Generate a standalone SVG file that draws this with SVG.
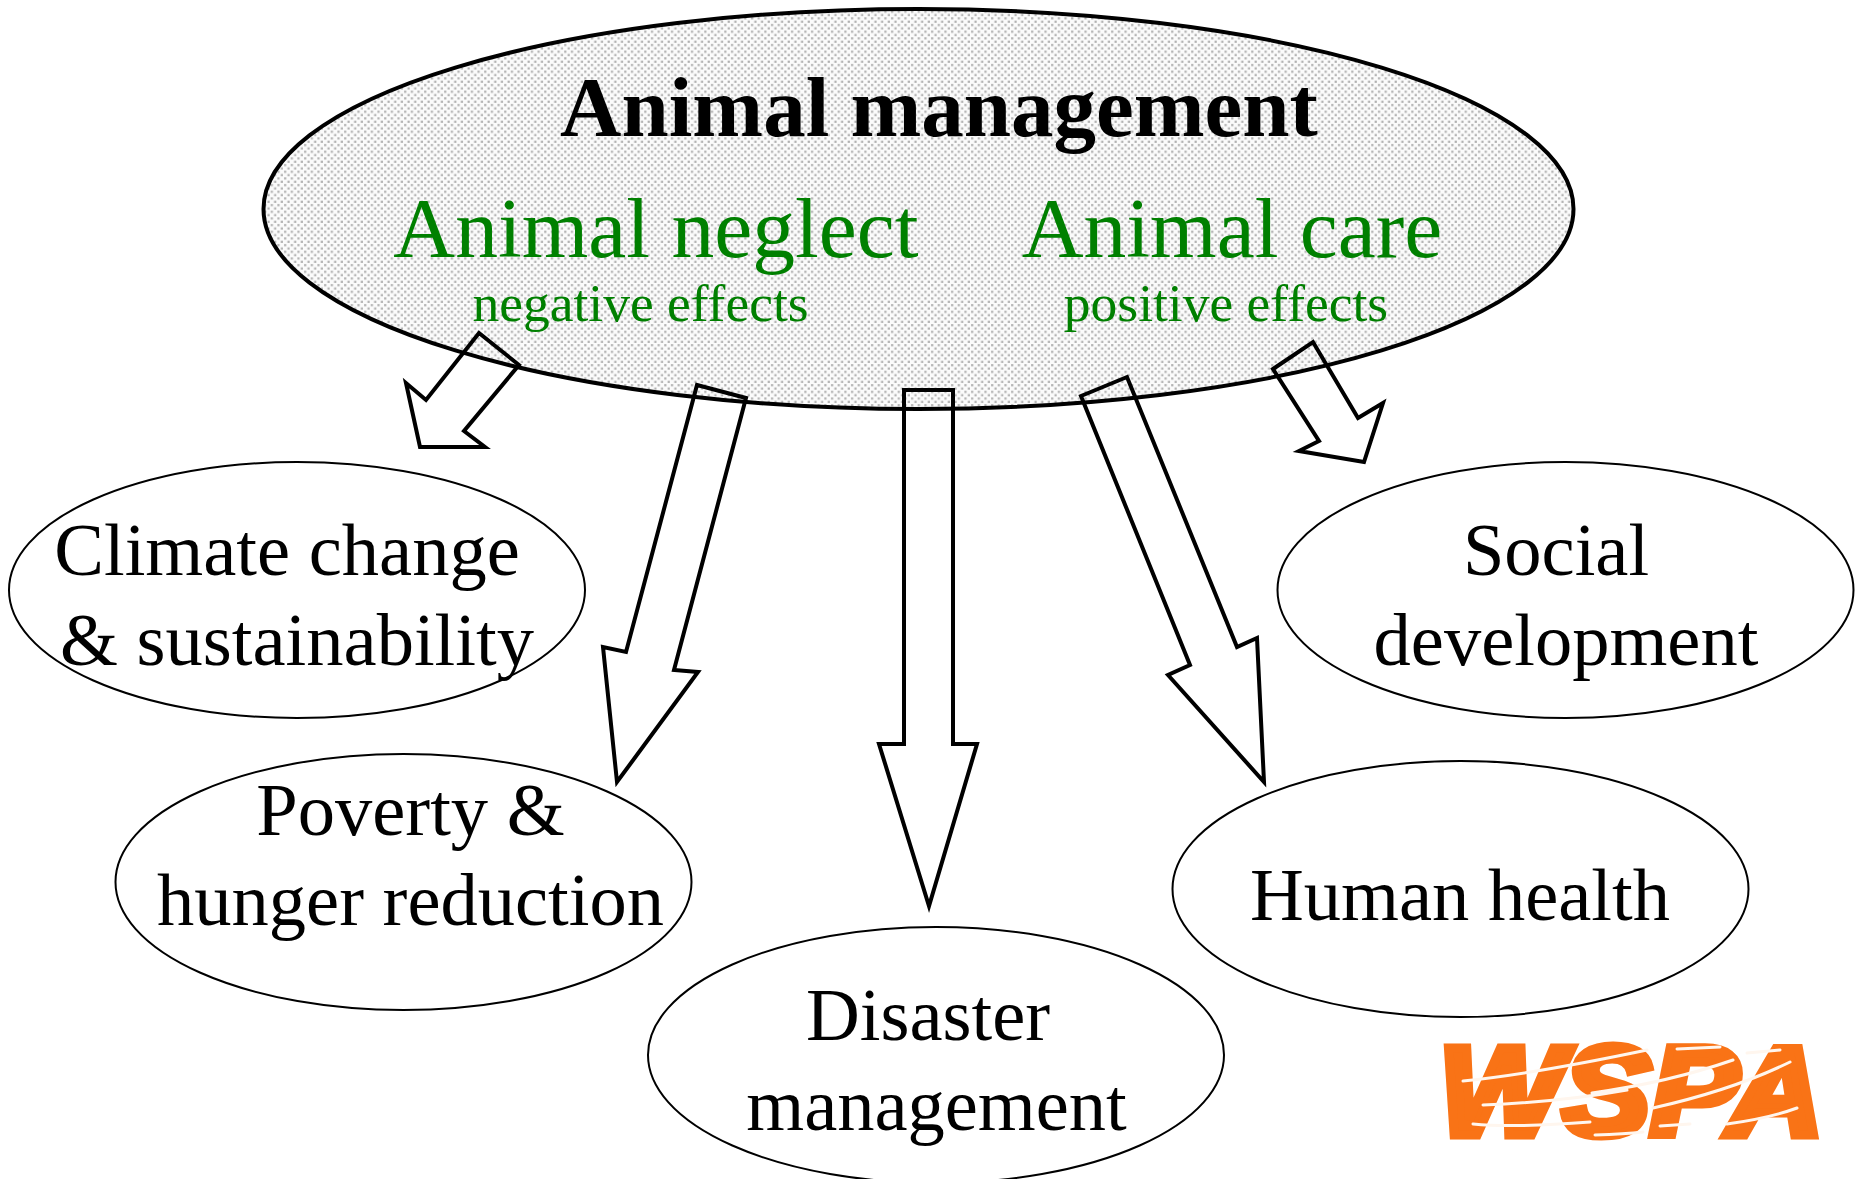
<svg xmlns="http://www.w3.org/2000/svg" width="1858" height="1179" viewBox="0 0 1858 1179">
<style>
text{font-family:"Liberation Serif","Times New Roman",serif;text-anchor:middle}
.t{font-size:74.5px;fill:#000}
.g{fill:#008000}
.n{fill:#fff;stroke:#000;stroke-width:2}
.o{fill:none;stroke:#000;stroke-width:4}
.s{fill:none;stroke:#fff6ee;stroke-linecap:round;stroke-width:3}
</style>
<defs>
<pattern id="dots" width="6.67" height="6.67" patternUnits="userSpaceOnUse">
<rect width="6.67" height="6.67" fill="#fbfbfb"/>
<rect x="0.6" y="0.6" width="2.2" height="2.2" fill="#b0b0b0"/>
<rect x="3.93" y="3.93" width="2.2" height="2.2" fill="#b0b0b0"/>
</pattern>
</defs>
<rect width="1858" height="1179" fill="#fff"/>
<g id="node-main">
<ellipse cx="918.5" cy="209" rx="655" ry="200" fill="url(#dots)" stroke="#000" stroke-width="4"/>
<text x="939" y="136" font-size="85" font-weight="bold">Animal management</text>
<text x="656" y="257" font-size="85.6" class="g">Animal neglect</text>
<text x="1232" y="257" font-size="85.6" class="g">Animal care</text>
<text x="640.5" y="321" font-size="53.5" class="g">negative effects</text>
<text x="1226" y="321" font-size="53.5" class="g">positive effects</text>
</g>
<g id="connectors">
<polygon class="o" points="479,333 519,365 464,431 485,447 420,447 406,383 426,400"/>
<polygon class="o" points="697,385 746,398 674,670 698,672 617,782 603,647 626,652"/>
<polygon class="o" points="904,390 953,390 953,744 977,744 929,906 879,744 904,744"/>
<polygon class="o" points="1081,396 1127,377 1237,647 1257,638 1264,782 1168,675 1190,665"/>
<polygon class="o" points="1273,369 1313,342 1358,418 1383,403 1364,462 1299,451 1319,441"/>
</g>
<g id="node-climate">
<ellipse class="n" cx="297" cy="590" rx="288" ry="128"/>
<text class="t" x="287" y="575">Climate change</text>
<text class="t" x="297" y="665">&amp; sustainability</text>
</g>
<g id="node-poverty">
<ellipse class="n" cx="403.5" cy="882" rx="288" ry="128"/>
<text class="t" x="410.5" y="835">Poverty &amp;</text>
<text class="t" x="410.5" y="925">hunger reduction</text>
</g>
<g id="node-disaster">
<ellipse class="n" cx="936" cy="1055" rx="288" ry="128"/>
<text class="t" x="928" y="1040">Disaster</text>
<text class="t" x="936.5" y="1130">management</text>
</g>
<g id="node-human">
<ellipse class="n" cx="1460.5" cy="889" rx="288" ry="128"/>
<text class="t" x="1460" y="920">Human health</text>
</g>
<g id="node-social">
<ellipse class="n" cx="1565.5" cy="590" rx="288" ry="128"/>
<text class="t" x="1556" y="575">Social</text>
<text class="t" x="1566" y="665">development</text>
</g>
<g id="logo">
<text x="1631" y="1135" font-size="126" font-style="italic" font-weight="bold" fill="#f97316" stroke="#f97316" stroke-width="9" stroke-linejoin="miter" style="font-family:'Liberation Sans',sans-serif" textLength="384" lengthAdjust="spacingAndGlyphs">WSPA</text>
<path class="s" d="M1463 1081Q1533 1074 1647 1050M1592 1093Q1670 1082 1733 1060M1653 1108Q1733 1090 1790 1062M1483 1105Q1560 1102 1627 1090M1473 1124Q1513 1128 1590 1122M1727 1124Q1770 1118 1797 1108M1595 1135Q1625 1134 1643 1132M1660 1126L1690 1124M1677 1049L1720 1047M1747 1053L1780 1050"/>
</g>
</svg>
